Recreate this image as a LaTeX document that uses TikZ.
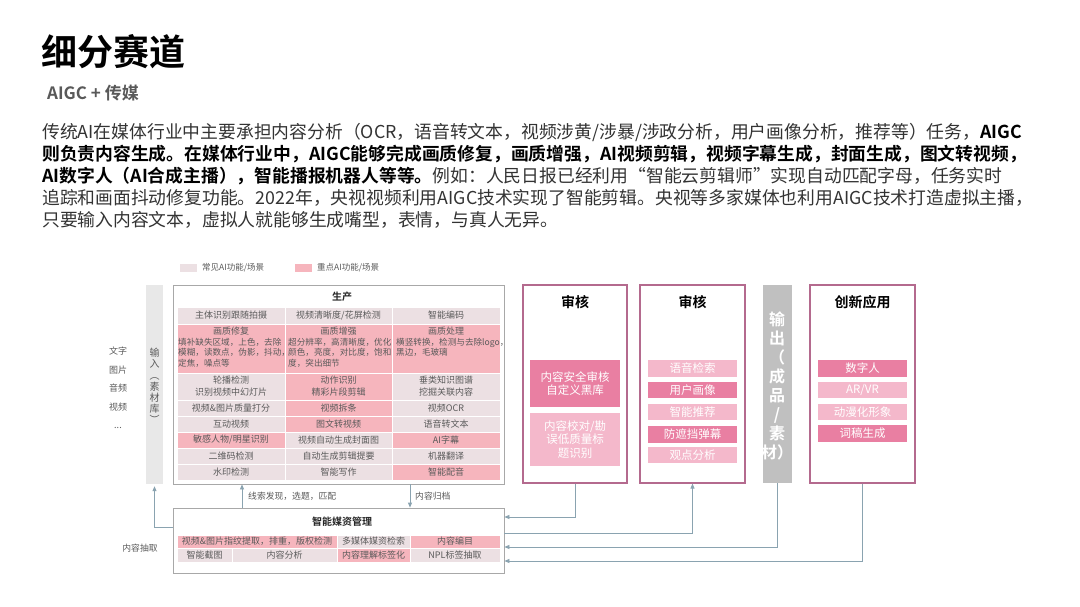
\documentclass[tikz,border=0pt]{standalone}
\usepackage{fontspec}
\setmainfont{Noto Sans CJK SC}[BoldFont={Noto Sans CJK SC Bold}]
\usetikzlibrary{arrows.meta}
\definecolor{lightc}{HTML}{ECE0E3}
\definecolor{pinkc}{HTML}{F6B5BD}
\definecolor{txt}{HTML}{5A5A5A}
\definecolor{arrowc}{HTML}{8AA3B0}
\definecolor{boxgray}{HTML}{A8A8A8}
\definecolor{mauve}{HTML}{B46A8E}
\definecolor{deep}{HTML}{E97FA2}
\definecolor{soft}{HTML}{F4B8CB}
\definecolor{barc}{HTML}{E8E8E8}
\definecolor{outbar}{HTML}{C0C0C0}
\definecolor{body}{HTML}{333333}
\newcommand\rb[7]{\node[#6, minimum width={#4pt-#2pt}, minimum height={#5pt-#3pt}] (#1) at ({(#2+#4)/2},{(#3+#5)/2}) {#7};}
\tikzset{
  cell/.style={draw=white, line width=0.7pt, inner sep=0pt, text=txt, align=center, font=\fontsize{9}{12}\selectfont},
  small/.style={inner sep=0pt, text=txt, align=left, font=\fontsize{8.6}{10.5}\selectfont},
  frame/.style={draw=boxgray, line width=0.8pt, inner sep=0pt},
  rframe/.style={draw=mauve, line width=1.1pt, inner sep=0pt},
  item/.style={inner sep=0pt, text=white, align=center, font=\fontsize{11.5}{13.5}\selectfont},
  rtitle/.style={inner sep=0pt, font=\bfseries\fontsize{14}{16}\selectfont},
  ptitle/.style={inner sep=0pt, text=black!85, font=\bfseries\fontsize{10}{12}\selectfont},
  lab/.style={inner sep=0pt, text=txt, font=\fontsize{8.8}{10.5}\selectfont},
  para/.style={inner sep=0pt, anchor=west, text=body, font=\fontsize{17.8}{20}\selectfont},
  arr/.style={draw=arrowc, line width=0.8pt, -{Triangle[length=5pt,width=4pt]}}
}
\begin{document}
\begin{tikzpicture}[x=1pt,y=-1pt]
\useasboundingbox[fill=white] (0,0) rectangle (1080,607);
% heading
\node[inner sep=0pt, anchor=west, font=\bfseries\fontsize{36}{40}\selectfont] (title) at (41,52) {细分赛道};
\node[inner sep=0pt, anchor=west, text=black!65, font=\bfseries\fontsize{17}{20}\selectfont] (sub) at (47,93) {AIGC + 传媒};
\node[para] (l1) at (42,132) {传统AI在媒体行业中主要承担内容分析（OCR，语音转文本，视频涉黄/涉暴/涉政分析，用户画像分析，推荐等）任务，\textbf{\color{black}AIGC}};
\node[para] (l2) at (42,154) {\textbf{\color{black}则负责内容生成。在媒体行业中，AIGC能够完成画质修复，画质增强，AI视频剪辑，视频字幕生成，封面生成，图文转视频，}};
\node[para] (l3) at (42,176) {\textbf{\color{black}AI数字人（AI合成主播），智能播报机器人等等。}例如：人民日报已经利用“智能云剪辑师”实现自动匹配字母，任务实时};
\node[para] (l4) at (42,198) {追踪和画面抖动修复功能。2022年，央视视频利用AIGC技术实现了智能剪辑。央视等多家媒体也利用AIGC技术打造虚拟主播，};
\node[para] (l5) at (42,220) {只要输入内容文本，虚拟人就能够生成嘴型，表情，与真人无异。};
% legend
\rb{sw1}{180}{264}{197}{272}{fill=lightc, inner sep=0pt}{}
\node[lab, anchor=west, font=\fontsize{8.5}{10}\selectfont] (lg1) at (202,268) {常见AI功能/场景};
\rb{sw2}{295}{264}{312}{272}{fill=pinkc, inner sep=0pt}{}
\node[lab, anchor=west, font=\fontsize{8.5}{10}\selectfont] (lg2) at (317,268) {重点AI功能/场景};
% input side
\rb{inbar}{146}{285}{163}{484}{fill=barc, inner sep=0pt}{}
\node[inner sep=0pt, text=txt, align=center, font=\fontsize{10}{11.2}\selectfont] (intext) at (154.5,386) {输\\入\\︵\\素\\材\\库\\︶};
\node[inner sep=0pt, text=txt, align=center, font=\fontsize{9}{18.5}\selectfont] (inputs) at (118,388) {文字\\图片\\音频\\视频\\...};
% production
\rb{prod}{173}{285}{504}{484}{frame}{}
\node[ptitle] (prodt) at (342,297) {生产};
\rb{p11}{177}{307}{285}{324}{cell, fill=lightc}{主体识别跟随拍摄}
\rb{p12}{285}{307}{392}{324}{cell, fill=lightc}{视频清晰度/花屏检测}
\rb{p13}{392}{307}{500}{324}{cell, fill=lightc}{智能编码}
\rb{p21}{177}{324}{285}{373}{cell, fill=pinkc}{}
\rb{p22}{285}{324}{392}{373}{cell, fill=pinkc}{}
\rb{p23}{392}{324}{500}{373}{cell, fill=pinkc}{}
\node[cell, draw=none] (p21h) at (231,331.5) {画质修复};
\node[cell, draw=none] (p22h) at (338.5,331.5) {画质增强};
\node[cell, draw=none] (p23h) at (446,331.5) {画质处理};
\node[small, anchor=north west] (p21d) at (178,338) {填补缺失区域，上色，去除\\模糊，读数点，伪影，抖动，\\定焦，噪点等};
\node[small, anchor=north west] (p22d) at (288,338) {超分辨率，高清晰度，优化\\颜色，亮度，对比度，饱和\\度，突出细节};
\node[small, anchor=north west] (p23d) at (396,338) {横竖转换，检测与去除logo，\\黑边，毛玻璃};
\rb{p31}{177}{373}{285}{400}{cell, fill=lightc}{轮播检测\\识别视频中幻灯片}
\rb{p32}{285}{373}{392}{400}{cell, fill=pinkc}{动作识别\\精彩片段剪辑}
\rb{p33}{392}{373}{500}{400}{cell, fill=lightc}{垂类知识图谱\\挖掘关联内容}
\rb{p41}{177}{400}{285}{416}{cell, fill=lightc}{视频\&图片质量打分}
\rb{p42}{285}{400}{392}{416}{cell, fill=pinkc}{视频拆条}
\rb{p43}{392}{400}{500}{416}{cell, fill=lightc}{视频OCR}
\rb{p51}{177}{416}{285}{432}{cell, fill=lightc}{互动视频}
\rb{p52}{285}{416}{392}{432}{cell, fill=pinkc}{图文转视频}
\rb{p53}{392}{416}{500}{432}{cell, fill=lightc}{语音转文本}
\rb{p61}{177}{432}{285}{448}{cell, fill=pinkc}{敏感人物/明星识别}
\rb{p62}{285}{432}{392}{448}{cell, fill=lightc}{视频自动生成封面图}
\rb{p63}{392}{432}{500}{448}{cell, fill=pinkc}{AI字幕}
\rb{p71}{177}{448}{285}{464}{cell, fill=lightc}{二维码检测}
\rb{p72}{285}{448}{392}{464}{cell, fill=lightc}{自动生成剪辑提要}
\rb{p73}{392}{448}{500}{464}{cell, fill=lightc}{机器翻译}
\rb{p81}{177}{464}{285}{480}{cell, fill=lightc}{水印检测}
\rb{p82}{285}{464}{392}{480}{cell, fill=lightc}{智能写作}
\rb{p83}{392}{464}{500}{480}{cell, fill=pinkc}{智能配音}
% media management
\rb{media}{173}{508}{504}{573}{frame}{}
\node[ptitle] (mediat) at (342,522) {智能媒资管理};
\rb{m11}{177}{535}{337}{548}{cell, fill=pinkc}{视频\&图片指纹提取，排重，版权检测}
\rb{m12}{337}{535}{410}{548}{cell, fill=lightc}{多媒体媒资检索}
\rb{m13}{410}{535}{500}{548}{cell, fill=pinkc}{内容编目}
\rb{m21}{177}{548}{232}{562}{cell, fill=lightc}{智能截图}
\rb{m22}{232}{548}{337}{562}{cell, fill=lightc}{内容分析}
\rb{m23}{337}{548}{410}{562}{cell, fill=pinkc}{内容理解标签化}
\rb{m24}{410}{548}{500}{562}{cell, fill=lightc}{NPL标签抽取}
% right columns
\rb{aud1}{523}{285}{627}{483}{rframe}{}
\node[rtitle] (aud1t) at (575,302) {审核};
\rb{a11}{530}{360}{620}{407}{item, fill=deep}{内容安全审核\\自定义黑库}
\rb{a12}{530}{413}{620}{466}{item, fill=soft}{内容校对/勘\\误低质量标\\题识别}
\rb{aud2}{640}{285}{745}{483}{rframe}{}
\node[rtitle] (aud2t) at (692.5,302) {审核};
\rb{a21}{648}{360}{737}{377}{item, fill=soft}{语音检索}
\rb{a22}{648}{382}{737}{398}{item, fill=deep}{用户画像}
\rb{a23}{648}{404}{737}{420}{item, fill=soft}{智能推荐}
\rb{a24}{648}{426}{737}{443}{item, fill=deep}{防遮挡弹幕}
\rb{a25}{648}{447}{737}{463}{item, fill=soft}{观点分析}
\rb{outb}{763}{285}{792}{483}{fill=outbar, inner sep=0pt}{}
\node[inner sep=0pt, text=white, align=center, font=\bfseries\fontsize{16}{19}\selectfont] (outt) at (777,386) {输\\出\\（\\成\\品\\/\\素\\材）};
\rb{inno}{810}{285}{915}{483}{rframe}{}
\node[rtitle] (innot) at (862.5,302) {创新应用};
\rb{i1}{818}{360}{907}{377}{item, fill=deep}{数字人}
\rb{i2}{818}{382}{907}{398}{item, fill=soft}{AR/VR}
\rb{i3}{818}{404}{907}{420}{item, fill=soft}{动漫化形象}
\rb{i4}{818}{425}{907}{442}{item, fill=deep}{词稿生成}
% connectors
\coordinate (xa) at (242,495);
\coordinate (xb) at (410,495);
\coordinate (ya) at (160,527);
\coordinate (yc) at (520,517);
\coordinate (yd) at (520,533);
\coordinate (ye) at (520,547);
\coordinate (yf) at (520,561);
\draw[arr] (media.north -| xa) -- (prod.south -| xa);
\draw[arr] (prod.south -| xb) -- (media.north -| xb);
\node[lab, anchor=west] (cluel) at (248,496) {线索发现，选题，匹配};
\node[lab, anchor=west] (archl) at (415,496) {内容归档};
\draw[arr, shorten >=2pt] (media.west |- ya) -| (inbar.south);
\node[lab] (extl) at (140,548) {内容抽取};
\draw[arr] (aud1.south) |- (media.east |- yc);
\draw[arr] (media.east |- yd) -| (aud2.south);
\draw[arr] (outb.south) |- (media.east |- ye);
\draw[arr] (inno.south) |- (media.east |- yf);
\end{tikzpicture}
\end{document}
